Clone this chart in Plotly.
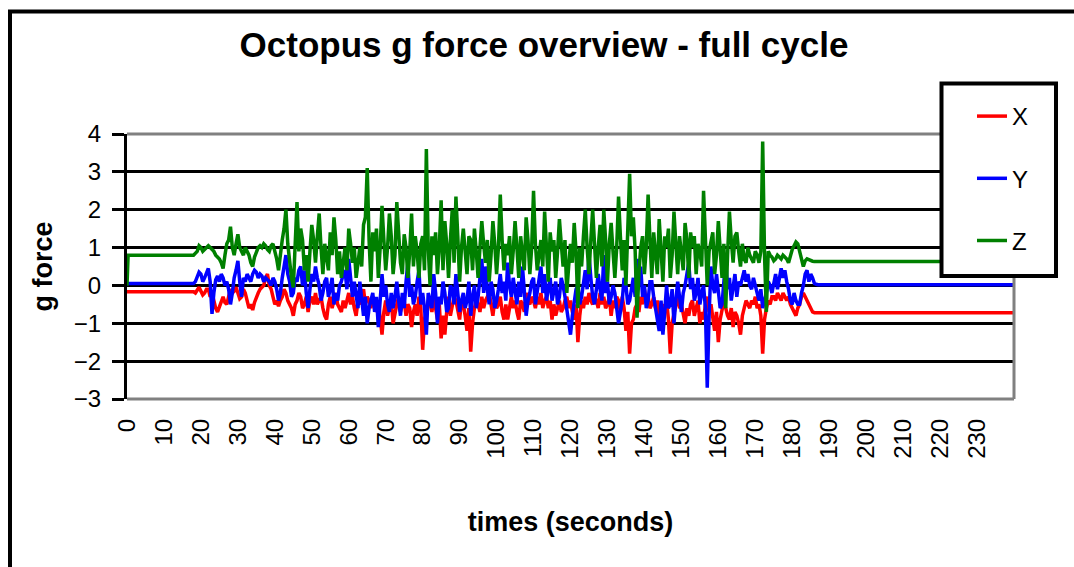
import plotly.graph_objects as go

# ---- data (g force per sample; whole seconds 18..187 and half seconds 18.5..186.5) ----
start_t = [0, 0.3]          # start of recording
end_t = 240                 # end of recording
x_start, y_start, z_start = [-0.17, -0.17], [0.05, 0.05], [0.0, 0.8]
x_end, y_end, z_end = -0.72, 0.02, 0.63

x_whole = [-0.17, -0.1, -0.15, -0.2, -0.1, -0.2, -0.6, -0.55, -0.3, -0.5,
           -0.1, -0.15, -0.2, -0.3, -0.2, -0.6, -0.65, -0.3, -0.1, 0.0,
           0.3, -0.1, -0.5, -0.55, -0.3, -0.2, -0.5, -0.8, -0.4, -0.3,
           -0.5, -0.7, -0.3, -0.2, -0.4, -0.6, -0.9, -0.3, -0.4, -0.5,
           -0.7, -0.6, -0.2, -0.3, -0.8, -0.5, -0.1, -0.3, -0.6, -0.5,
           -0.4, -1.3, -0.4, -0.6, -1.0, -0.5, -0.7, -0.4, -0.5, -1.1,
           -0.5, -0.3, -1.7, -0.6, -0.5, -0.3, -0.9, -1.4, -1.3, -0.3,
           -0.5, -0.4, -0.9, -0.5, -1.2, -1.75, -0.6, -0.5, -0.3, -0.4,
           -0.2, -0.8, -0.6, -0.3, -0.9, -0.9, -0.3, -0.4, -0.9, -0.5,
           -0.2, -0.5, -0.4, -0.3, -0.2, -0.4, -0.6, -0.9, -0.8, -0.4,
           -0.6, -0.3, -0.4, -0.9, -1.5, -0.4, -0.3, -0.2, -0.5, -0.4,
           -0.2, -0.3, -0.5, -0.8, -0.6, -0.4, -0.3, -1.2, -1.8, -0.9,
           -0.5, -0.3, -0.1, -0.3, -0.5, -0.6, -0.8, -0.5, -0.4, -1.8,
           -0.7, -0.3, -0.5, -1.0, -0.8, -0.4, -0.6, -1.0, -0.9, -0.3,
           -0.5, -1.2, -1.5, -0.6, -0.6, -0.9, -1.1, -0.8, -1.3, -0.6,
           -0.5, -0.4, -0.3, -0.5, -1.8, -0.6, -0.5, -0.3, -0.2, -0.4,
           -0.3, -0.3, -0.6, -0.8, -0.5, -0.2, -0.4, -0.6, -0.72, -0.72]
x_half = [-0.2, -0.05, -0.25, -0.1, -0.3, -0.45, -0.7, -0.4, -0.45, -0.3,
          -0.2, -0.05, -0.35, -0.1, -0.45, -0.5, -0.45, -0.2, -0.05, 0.2,
          0.0, -0.3, -0.4, -0.4, -0.1, -0.4, -0.6, -0.5, -0.2, -0.6,
          -0.3, -0.4, -0.5, -0.5, -0.3, -0.8, -0.5, -0.6, -0.2, -0.6,
          -0.4, -0.4, -0.5, -0.6, -0.4, -0.3, -0.5, -0.4, -0.3, -0.7,
          -0.8, -0.7, -0.8, -0.4, -0.7, -0.3, -0.5, -0.8, -0.6, -0.7,
          -0.8, -0.6, -0.9, -0.4, -0.7, -0.6, -0.5, -0.8, -0.7, -0.8,
          -0.3, -0.7, -0.4, -0.8, -0.6, -1.0, -0.4, -0.7, -0.6, -0.3,
          -0.5, -0.4, -0.5, -0.7, -0.5, -0.6, -0.6, -0.7, -0.4, -0.7,
          -0.4, -0.3, -0.6, -0.5, -0.6, -0.3, -0.4, -0.5, -0.6, -0.7,
          -0.4, -0.6, -0.7, -0.5, -0.8, -0.6, -0.5, -0.4, -0.3, -0.6,
          -0.5, -0.6, -0.3, -0.4, -0.3, -0.7, -0.6, -0.7, -1.0, -0.6,
          -0.7, -0.5, -0.4, -0.6, -0.3, -0.4, -0.6, -0.7, -0.9, -1.0,
          -0.5, -0.6, -0.8, -0.6, -0.5, -0.8, -0.4, -0.7, -0.5, -0.7,
          -0.8, -0.7, -0.9, -0.4, -0.8, -0.6, -0.7, -1.0, -0.8, -0.4,
          -0.6, -0.5, -0.6, -0.8, -0.9, -0.4, -0.3, -0.4, -0.3, -0.2,
          -0.4, -0.5, -0.7, -0.6, -0.3, -0.3, -0.5, -0.7, -0.72]

y_whole = [0.05, 0.2, 0.3, 0.2, 0.45, -0.75, 0.15, 0.1, 0.2, 0.1,
           -0.5, 0.2, 0.65, -0.3, 0.1, 0.2, 0.3, 0.35, 0.3, 0.1,
           0.15, 0.0, 0.1, -0.4, 0.2, 0.8, 0.1, -0.2, 0.1, 0.5,
           0.4, -0.6, 0.3, 0.5, 0.0, -0.2, 0.2, -0.1, -0.5, -0.4,
           0.1, 0.4, 0.7, -0.3, -0.3, 0.1, -0.8, -1.0, -0.4, -0.7,
           -1.1, 0.3, 0.0, -0.7, -0.6, 0.1, -0.8, -0.6, 0.6, 0.0,
           -0.3, 0.4, -0.2, -1.3, -0.4, 0.3, -1.0, -0.5, -0.2, -0.6,
           -0.1, 0.3, -0.7, -0.2, -0.4, -0.8, 0.0, -0.3, 0.7, 0.5,
           -0.5, -0.1, -0.4, 0.3, 0.1, 0.6, -0.3, -0.2, 0.1, 0.5,
           -0.8, -0.2, 0.2, -0.2, 0.5, 0.3, -0.1, -0.4, 0.1, -0.3,
           0.0, -0.6, -1.3, -0.5, 0.0, -0.3, 0.4, 0.8, -0.3, 0.0,
           -0.1, 0.8, 0.1, -0.3, -0.2, -1.0, -0.4, 0.0, -0.4, 0.2,
           0.7, 0.5, 0.0, -0.4, 0.1, -0.6, -1.2, -1.3, 0.0, -0.5,
           -1.0, 0.1, -0.7, 0.0, 0.6, 0.2, -0.2, -0.5, 0.0, -2.7,
           0.5, -0.2, -0.1, -0.5, 0.7, 0.2, -0.1, -0.3, 0.0, 0.4,
           0.3, -0.1, 0.0, -0.4, -0.6, -0.2, 0.0, 0.1, -0.1, 0.45,
           0.4, -0.1, -0.5, -0.4, -0.5, 0.0, 0.4, 0.3, 0.05, 0.02]
y_half = [0.1, 0.35, 0.1, 0.3, 0.1, -0.2, 0.25, 0.3, 0.0, -0.1,
          -0.2, 0.4, 0.1, 0.2, 0.3, 0.1, 0.4, 0.2, 0.25, 0.2,
          0.1, 0.2, -0.1, -0.2, 0.5, 0.3, -0.3, 0.2, 0.4, 0.0,
          -0.2, -0.1, 0.1, 0.2, -0.4, 0.1, -0.3, 0.2, -0.2, 0.0,
          0.3, -0.1, 0.2, 0.1, -0.6, -0.4, -0.3, -0.6, -0.2, -0.3,
          -0.5, -0.3, -0.5, -0.2, -0.3, -0.4, -0.2, 0.1, -0.3, -0.5,
          0.1, -0.5, -0.6, -0.2, -0.6, -0.2, -0.3, 0.1, -0.7, 0.0,
          -0.5, -0.2, -0.4, -0.6, 0.1, -0.3, -0.6, 0.2, -0.2, -0.1,
          0.1, -0.6, -0.1, -0.2, -0.4, 0.0, 0.2, -0.5, -0.3, -0.3,
          -0.4, 0.1, -0.5, 0.1, -0.2, -0.4, 0.2, -0.1, -0.5, 0.2,
          -0.3, -0.9, -0.8, -0.1, -0.5, 0.1, -0.1, 0.2, -0.5, 0.3,
          -0.4, -0.2, -0.5, 0.0, -0.6, -0.7, 0.2, -0.5, -0.1, -0.3,
          0.0, -0.3, -0.6, 0.1, -0.3, -0.9, -0.4, -0.7, -0.6, -0.1,
          -0.4, -0.3, -0.2, 0.3, -0.1, -0.4, 0.2, -0.2, -0.6, -0.8,
          0.0, 0.3, -0.6, 0.1, -0.1, -0.4, 0.3, 0.1, 0.2, 0.1,
          0.0, 0.2, -0.2, -0.1, -0.4, 0.1, -0.2, 0.3, 0.2, 0.2,
          0.1, -0.4, -0.2, -0.5, -0.2, 0.3, 0.1, 0.2, 0.03]

z_whole = [0.8, 0.9, 1.0, 0.95, 1.05, 0.95, 0.8, 0.7, 0.45, 1.1,
           1.55, 0.8, 1.35, 0.9, 1.0, 0.8, 0.5, 0.9, 1.05, 1.1,
           0.95, 1.05, 0.9, 0.4, 1.2, 2.0, 0.6, -0.05, 2.2, 1.5,
           0.4, 0.1, 1.6, 0.6, 1.9, 0.3, 0.7, 1.4, 1.8, 0.3,
           0.2, 1.0, 1.5, 0.6, 0.2, 1.0, 1.6, 3.1, 0.1, 0.9,
           0.2, 2.1, 0.4, 1.9, 0.3, 2.2, 0.6, 1.35, 0.2, 1.9,
           1.3, 0.2, 1.3, 3.6, 0.0, 0.8, 0.3, 2.25, 1.7, 0.2,
           2.0, 2.35, 0.1, 1.5, 0.3, 1.2, 1.5, 0.2, 1.7, 0.6,
           0.1, 1.7, 0.3, 2.4, 0.4, 0.8, 0.3, 1.7, 0.2, 0.9,
           1.8, 0.3, 2.5, 0.4, 1.2, 1.95, 0.1, 0.9, 0.2, 1.75,
           0.5, -0.2, 1.1, 1.65, -0.6, 0.5, 2.0, 0.3, 2.0, 0.2,
           1.6, 2.0, 0.1, 1.65, 0.2, 2.35, 0.4, 0.0, 2.95, 1.8,
           -0.85, 1.0, 0.3, 2.4, 0.2, 0.8, 1.75, 0.1, 1.0, 0.2,
           1.95, 0.3, 0.9, 1.65, 0.2, 1.0, 0.3, 0.9, 2.5, 0.0,
           1.2, 0.3, 1.7, 0.2, -0.6, 1.95, 0.6, 1.4, 0.5, 0.7,
           1.0, 0.7, 0.9, 0.6, 3.8, -0.7, 0.8, 0.65, 0.8, 0.7,
           0.75, 0.6, 0.95, 1.15, 0.9, 0.5, 0.7, 0.65, 0.63, 0.63]
z_half = [0.85, 1.05, 0.9, 1.0, 1.0, 0.9, 0.75, 0.6, 0.8, 1.2,
          1.0, 1.1, 1.0, 0.8, 0.9, 0.6, 0.75, 1.0, 1.0, 1.05,
          0.9, 1.1, 0.7, 0.9, 1.5, 1.1, 0.2, 1.0, 0.9, 1.2,
          0.8, 0.9, 1.2, 1.3, 1.0, 1.1, 0.4, 0.8, 1.2, 0.9,
          0.6, 0.4, 1.1, 1.0, 0.6, 0.5, 1.8, 1.2, 1.4, 1.5,
          1.0, 1.2, 1.0, 1.3, 0.8, 1.4, 0.3, 1.0, 0.9, 0.5,
          0.9, 1.1, 0.4, 1.0, 1.3, 1.4, 1.0, 0.4, 1.1, 1.2,
          0.6, 1.3, 1.0, 0.9, 1.3, 0.4, 0.9, 1.0, 1.1, 1.2,
          0.8, 1.1, 1.0, 1.2, 1.1, 1.3, 0.9, 1.0, 1.3, 0.4,
          1.2, 1.0, 1.1, 0.9, 0.5, 1.0, 1.4, 1.2, 0.9, 1.1,
          1.2, 0.5, 0.6, 0.9, 1.0, 1.3, 1.0, 1.2, 1.1, 1.0,
          0.5, 1.2, 1.1, 0.9, 1.0, 1.3, 1.2, 1.5, 1.3, 0.9,
          0.3, 1.3, 1.0, 1.2, 1.4, 0.3, 1.0, 1.3, 1.5, 0.8,
          1.1, 1.3, 0.4, 1.2, 1.4, 1.3, 1.1, 0.5, 1.3, 0.9,
          1.4, 0.8, 1.0, 1.1, 0.8, 1.2, 1.3, 0.9, 1.1, 0.6,
          0.8, 0.6, 0.8, 0.9, 0.8, 0.9, 0.75, 0.7, 0.75, 0.8,
          0.7, 0.8, 1.05, 1.1, 0.7, 0.65, 0.68, 0.64, 0.63]

series_names = ["X", "Y", "Z"]
series_colors = ["#ff0000", "#0000ff", "#008000"]
x_tick_vals = list(range(0, 240, 10))
y_tick_vals = [-3, -2, -1, 0, 1, 2, 3, 4]


def merge(whole, half):
    assert len(whole) == len(half) + 1, (len(whole), len(half))
    out = []
    for w, h in zip(whole, half):
        out += [w, h]
    return out + [whole[-1]]


n_active = len(x_whole)
time_s = start_t + [18 + 0.5 * k for k in range(2 * n_active - 1)] + [end_t]
x_g = x_start + merge(x_whole, x_half) + [x_end]
y_g = y_start + merge(y_whole, y_half) + [y_end]
z_g = z_start + merge(z_whole, z_half) + [z_end]

FONT = "Liberation Sans, Arial, sans-serif"

fig = go.Figure()
for name, vals, col in zip(series_names, [x_g, y_g, z_g], series_colors):
    fig.add_trace(go.Scatter(
        x=time_s, y=vals, mode="lines", name=name, legendgroup=name,
        line=dict(color=col, width=3.5),
    ))

# plot area: x 127..1014, y 134..399 (px)
L, R, T, B = 127, 1014, 134, 399
W, H = R - L, B - T


def px(xp):
    return (xp - L) / W


def py(yp):
    return (B - yp) / H


shapes = [
    # outer chart border
    dict(type="rect", xref="paper", yref="paper",
         x0=px(10), x1=px(1090), y0=py(590), y1=py(11.5),
         line=dict(color="black", width=4), fillcolor="rgba(0,0,0,0)", layer="below"),
    # plot area border (gray) top, bottom, right
    dict(type="line", xref="paper", yref="paper", x0=0, x1=1, y0=1, y1=1,
         line=dict(color="#808080", width=3), layer="above"),
    dict(type="line", xref="paper", yref="paper", x0=0, x1=1, y0=0, y1=0,
         line=dict(color="#808080", width=3), layer="above"),
    dict(type="line", xref="paper", yref="paper", x0=1, x1=1, y0=0, y1=1,
         line=dict(color="#808080", width=3), layer="above"),
    # legend box
    dict(type="rect", xref="paper", yref="paper",
         x0=px(941.5), x1=px(1056), y0=py(276), y1=py(83.5),
         line=dict(color="black", width=4), fillcolor="white", layer="above"),
]

fig.update_layout(
    width=1074, height=567,
    margin=dict(l=L, r=1074 - R, t=T, b=567 - B, autoexpand=False),
    paper_bgcolor="white", plot_bgcolor="white",
    font=dict(family=FONT, color="black"),
    title=dict(text="Octopus g force overview - full cycle",
               font=dict(family=FONT, size=35, color="black", weight="bold"),
               x=544 / 1074, xanchor="center", xref="container",
               y=1 - 45 / 567, yanchor="middle", yref="container"),
    xaxis=dict(range=[0, 240], tickvals=x_tick_vals, ticktext=[str(v) for v in x_tick_vals],
               tickangle=-90, showgrid=False, zeroline=False, showline=False,
               ticks="", ticklabelstandoff=14,
               tickfont=dict(family=FONT, size=24, color="black"),
               title=dict(text="times (seconds)", standoff=54,
                          font=dict(family=FONT, size=27, color="black", weight="bold"))),
    yaxis=dict(range=[-3, 4], tickvals=y_tick_vals, showgrid=True, gridcolor="black",
               gridwidth=3, zeroline=False, showline=True, linecolor="black", linewidth=3,
               ticks="outside", ticklen=12, tickwidth=3, tickcolor="black",
               ticklabelstandoff=6,
               tickfont=dict(family=FONT, size=24, color="black"),
               title=dict(text="g force", standoff=14,
                          font=dict(family=FONT, size=27, color="black", weight="bold"))),
    legend=dict(x=px(972), y=py(94), xanchor="left", yanchor="top",
                bgcolor="rgba(0,0,0,0)", borderwidth=0,
                tracegroupgap=28, traceorder="grouped",
                font=dict(family=FONT, size=24, color="black")),
    shapes=shapes,
    showlegend=True,
)

fig.write_html("out.html", config={"displayModeBar": False},
               post_script="document.body.style.margin='0px';")
